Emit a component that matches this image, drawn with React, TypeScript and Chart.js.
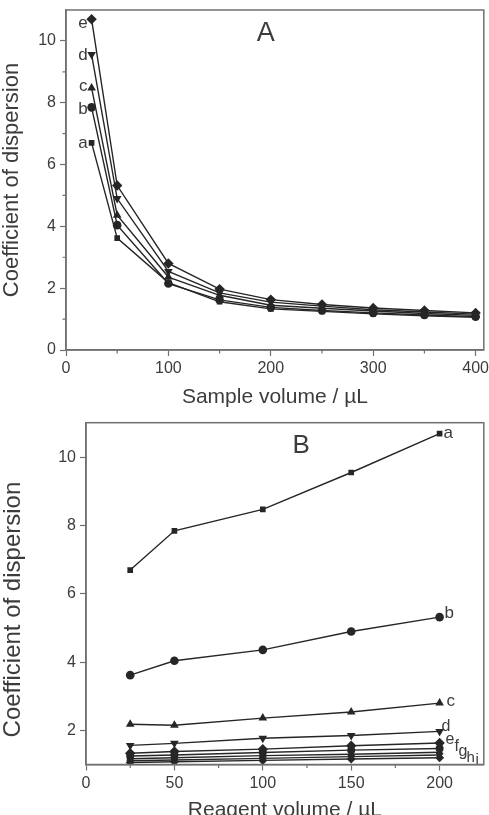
import React, { useEffect, useRef } from "react";
import { Chart, registerables } from "chart.js";
Chart.register(...registerables);

// ---------- Data ----------
const sampleVolumes = [25, 50, 100, 150, 200, 250, 300, 350, 400];
const sampleA_a = [6.70, 3.62, 2.18, 1.56, 1.33, 1.25, 1.17, 1.11, 1.06];
const sampleA_b = [7.85, 4.04, 2.15, 1.62, 1.38, 1.28, 1.20, 1.13, 1.08];
const sampleA_c = [8.48, 4.36, 2.36, 1.77, 1.45, 1.35, 1.26, 1.18, 1.12];
const sampleA_d = [9.56, 4.90, 2.54, 1.85, 1.55, 1.42, 1.30, 1.23, 1.16];
const sampleA_e = [10.70, 5.32, 2.80, 1.97, 1.63, 1.47, 1.36, 1.28, 1.20];
const seriesNamesA = ["a", "b", "c", "d", "e"];

const reagentVolumes = [25, 50, 100, 150, 200];
const reagentB_a = [6.70, 7.85, 8.48, 9.56, 10.70];
const reagentB_b = [3.62, 4.04, 4.36, 4.90, 5.32];
const reagentB_c = [2.18, 2.15, 2.36, 2.54, 2.80];
const reagentB_d = [1.56, 1.62, 1.77, 1.85, 1.97];
const reagentB_e = [1.33, 1.38, 1.45, 1.55, 1.63];
const reagentB_f = [1.25, 1.28, 1.35, 1.42, 1.47];
const reagentB_g = [1.17, 1.20, 1.26, 1.30, 1.36];
const reagentB_h = [1.11, 1.13, 1.18, 1.23, 1.28];
const reagentB_i = [1.06, 1.08, 1.12, 1.16, 1.20];
const seriesNamesB = ["a", "b", "c", "d", "e", "f", "g", "h", "i"];

const xTicksA = [0, 100, 200, 300, 400];
const xMinorA = [50, 150, 250, 350];
const yTicksA = [0, 2, 4, 6, 8, 10];
const yMinorA = [1, 3, 5, 7, 9];
const xTicksB = [0, 50, 100, 150, 200];
const xMinorB = [25, 75, 125, 175];
const yTicksB = [2, 4, 6, 8, 10];

const xTitleA = "Sample volume / µL";
const xTitleB = "Reagent volume / µL";
const yTitle = "Coefficient of dispersion";

// ---------- Styles ----------
const FONT = '"Liberation Sans", Arial, Helvetica, sans-serif';
const TEXT = "#3c3c3c";
const AXIS = "#707070";
const LINE = "#262626";

const markers = [
  { style: "rect", rot: 0, r: 4 },
  { style: "circle", rot: 0, r: 4.3 },
  { style: "triangle", rot: 0, r: 5 },
  { style: "triangle", rot: 180, r: 5 },
  { style: "rectRot", rot: 0, r: 5.2 },
  { style: "circle", rot: 0, r: 4 },
  { style: "triangle", rot: 0, r: 4.5 },
  { style: "triangle", rot: 180, r: 4.5 },
  { style: "rectRot", rot: 0, r: 4.5 },
];

const labelStyleA = [
  { dx: -4, dy: 0, size: 17 },
  { dx: -4, dy: 2, size: 17 },
  { dx: -4, dy: -2, size: 17 },
  { dx: -4, dy: 1, size: 17 },
  { dx: -4, dy: 4, size: 17 },
];
const labelStyleB = [
  { dx: 4, dy: 0, size: 17 },
  { dx: 5, dy: -4, size: 17 },
  { dx: 7, dy: -2, size: 17 },
  { dx: 2, dy: -5, size: 16 },
  { dx: 6, dy: -3, size: 16 },
  { dx: 15, dy: -2, size: 16 },
  { dx: 19, dy: -1, size: 16 },
  { dx: 27, dy: 3, size: 15 },
  { dx: 36, dy: 2, size: 15 },
];

const framePlugin = {
  id: "frame",
  afterDraw(chart: any, _args: any, opts: any) {
    const { ctx, chartArea } = chart;
    const { left, top, right, bottom } = chartArea;
    const xs = chart.scales.x;
    const ys = chart.scales.y;
    ctx.save();
    ctx.strokeStyle = AXIS;
    ctx.lineWidth = 1.5;
    ctx.strokeRect(left, top, right - left, bottom - top);
    ctx.lineWidth = 1.2;
    ctx.beginPath();
    (opts.xMinor || []).forEach((v: number) => {
      const px = xs.getPixelForValue(v);
      ctx.moveTo(px, bottom);
      ctx.lineTo(px, bottom + 3.5);
    });
    (opts.yMinor || []).forEach((v: number) => {
      const py = ys.getPixelForValue(v);
      ctx.moveTo(left, py);
      ctx.lineTo(left - 3.5, py);
    });
    ctx.stroke();
    ctx.fillStyle = TEXT;
    ctx.font = `${opts.letterSize}px ${FONT}`;
    ctx.textAlign = "center";
    ctx.textBaseline = "middle";
    ctx.fillText(
      opts.letter,
      xs.getPixelForValue(opts.letterAt[0]),
      ys.getPixelForValue(opts.letterAt[1])
    );
    // y axis title
    ctx.save();
    ctx.translate(opts.yTitleX, (top + bottom) / 2 + opts.yTitleShift);
    ctx.rotate(-Math.PI / 2);
    ctx.font = `${opts.yTitleSize}px ${FONT}`;
    ctx.fillText(yTitle, 0, 0);
    ctx.restore();
    ctx.restore();
  },
};

const seriesLabelPlugin = {
  id: "seriesLabels",
  afterDatasetsDraw(chart: any, _args: any, opts: any) {
    const ctx = chart.ctx;
    ctx.save();
    ctx.fillStyle = TEXT;
    ctx.textBaseline = "middle";
    ctx.textAlign = opts.align;
    chart.data.datasets.forEach((ds: any, i: number) => {
      const meta = chart.getDatasetMeta(i);
      const idx = opts.last ? meta.data.length - 1 : 0;
      const pt = meta.data[idx];
      const s = opts.styles[i];
      ctx.font = `${s.size}px ${FONT}`;
      ctx.fillText(ds.label, pt.x + s.dx, pt.y + s.dy);
    });
    ctx.restore();
  },
};

function makeDatasets(names: string[], series: number[][], xs: number[]) {
  return series.map((vals, i) => ({
    label: names[i],
    data: vals.map((v, j) => ({ x: xs[j], y: v })),
    borderColor: LINE,
    backgroundColor: LINE,
    borderWidth: 1.4,
    pointStyle: markers[i].style,
    rotation: markers[i].rot,
    pointRadius: markers[i].r,
    pointBorderWidth: 0,
    tension: 0,
  }));
}

function axisCommon() {
  return {
    border: { display: true, color: AXIS, width: 1.5 },
    grid: { drawOnChartArea: false, color: AXIS, tickLength: 6, tickWidth: 1.2 },
  };
}

function buildConfig(p: any) {
  return {
    type: "line",
    data: { datasets: p.datasets },
    plugins: [framePlugin, seriesLabelPlugin],
    options: {
      animation: false,
      responsive: false,
      maintainAspectRatio: false,
      layout: { padding: p.padding },
      plugins: {
        legend: { display: false },
        tooltip: { enabled: false },
        frame: p.frame,
        seriesLabels: p.labels,
      },
      scales: {
        x: {
          type: "linear",
          min: p.xMin,
          max: p.xMax,
          ...axisCommon(),
          ticks: { color: TEXT, font: { family: FONT, size: 16 }, padding: 3, maxRotation: 0 },
          title: {
            display: true,
            text: p.xTitle,
            color: TEXT,
            font: { family: FONT, size: 21, lineHeight: 1.2 },
            padding: { top: 0, bottom: 2 },
          },
          afterBuildTicks: (s: any) => {
            s.ticks = p.xTicks.map((v: number) => ({ value: v }));
          },
          afterFit: (s: any) => {
            s.height = p.xAxisHeight;
            s.paddingLeft = 0;
            s.paddingRight = 0;
          },
        },
        y: {
          type: "linear",
          min: p.yMin,
          max: p.yMax,
          ...axisCommon(),
          ticks: { color: TEXT, font: { family: FONT, size: 16 }, padding: 4 },
          title: { display: false },
          afterBuildTicks: (s: any) => {
            s.ticks = p.yTicks.map((v: number) => ({ value: v }));
          },
          afterFit: (s: any) => {
            s.width = p.yAxisWidth;
            s.paddingTop = 0;
            s.paddingBottom = 0;
          },
        },
      },
    },
  };
}

function Panel(props: { top: number; height: number; cfg: any }) {
  const ref = useRef<HTMLCanvasElement>(null);
  useEffect(() => {
    if (!ref.current) return;
    const chart = new Chart(ref.current, props.cfg);
    return () => chart.destroy();
  }, []);
  return (
    <canvas
      ref={ref}
      width={489}
      height={props.height}
      style={{ position: "absolute", left: 0, top: props.top, width: 489, height: props.height }}
    />
  );
}

export default function App() {
  const cfgA = buildConfig({
    datasets: makeDatasets(
      seriesNamesA,
      [sampleA_a, sampleA_b, sampleA_c, sampleA_d, sampleA_e],
      sampleVolumes
    ),
    padding: { top: 10, right: 4, left: 0, bottom: 0 },
    xMin: 0,
    xMax: 408,
    yMin: 0,
    yMax: 11,
    xTicks: xTicksA,
    yTicks: yTicksA,
    xTitle: xTitleA,
    xAxisHeight: 412 - 350,
    yAxisWidth: 66,
    frame: {
      xMinor: xMinorA,
      yMinor: yMinorA,
      letter: "A",
      letterSize: 27,
      letterAt: [195, 10.25],
      yTitleX: 12,
      yTitleShift: 0,
      yTitleSize: 22,
    },
    labels: { align: "right", last: false, styles: labelStyleA },
  });
  const cfgB = buildConfig({
    datasets: makeDatasets(
      seriesNamesB,
      [reagentB_a, reagentB_b, reagentB_c, reagentB_d, reagentB_e, reagentB_f, reagentB_g, reagentB_h, reagentB_i],
      reagentVolumes
    ),
    padding: { top: 10.7, right: 2.3, left: 0, bottom: 0 },
    xMin: 0,
    xMax: 225,
    yMin: 1,
    yMax: 11.02,
    xTicks: xTicksB,
    yTicks: yTicksB,
    xTitle: xTitleB,
    xAxisHeight: 413 - 352.5,
    yAxisWidth: 86,
    frame: {
      xMinor: xMinorB,
      yMinor: [],
      letter: "B",
      letterSize: 26,
      letterAt: [121.7, 10.33],
      yTitleX: 13,
      yTitleShift: 16,
      yTitleSize: 24,
    },
    labels: { align: "left", last: true, styles: labelStyleB },
  });
  return (
    <div
      style={{
        position: "fixed",
        left: 0,
        top: 0,
        width: 489,
        height: 815,
        overflow: "hidden",
        background: "#fff",
      }}
    >
      <Panel top={0} height={412} cfg={cfgA} />
      <Panel top={412} height={413} cfg={cfgB} />
    </div>
  );
}
